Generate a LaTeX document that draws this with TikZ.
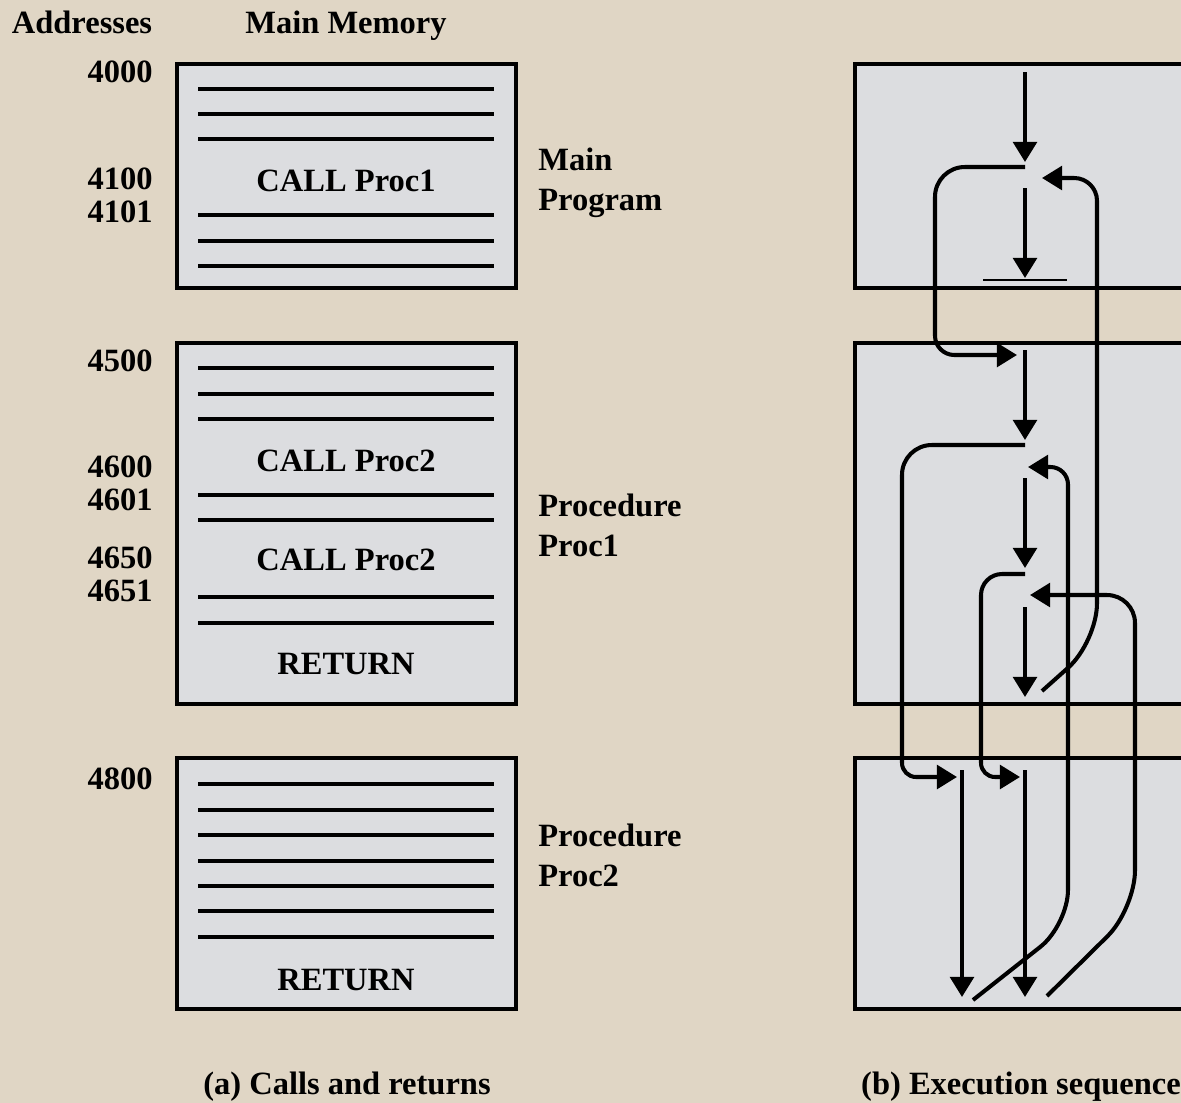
\documentclass[tikz,border=0pt]{standalone}
\usepackage{fontspec}
\setmainfont{Liberation Serif}
\usetikzlibrary{arrows.meta}
\definecolor{paper}{RGB}{224,214,197}
\definecolor{memgray}{RGB}{220,221,224}

\begin{document}
\begin{tikzpicture}[x=0.02cm,y=-0.02cm,>={Triangle[width=13.5pt,length=11.5pt]},
  every node/.style={font=\fontsize{18.5}{21}\selectfont\bfseries,inner sep=0pt},
  addr/.style={anchor=base east},
  side/.style={anchor=base west},
  instr/.style={anchor=base},
  membox/.style={draw,fill=memgray,line width=2.3pt},
  instrline/.style={line width=1.8pt},
  flow/.style={line width=2.3pt}]
  % page and background
  \useasboundingbox (0,0) rectangle (1181,1103);
  \clip (0,0) rectangle (1181,1103);
  \fill[paper] (0,0) rectangle (1181,1103);
  % headings
  \node (hdraddr) [anchor=base] at (82,33) {Addresses};
  \node (hdrmem) [anchor=base] at (346,33) {Main Memory};
  % (a) memory boxes
  \draw[membox] (177,64) rectangle (516,288);
  \draw[membox] (177,343) rectangle (516,704);
  \draw[membox] (177,758) rectangle (516,1009);
  \foreach \y in {89,114,139,215,241,266,368,394,419,495,520,597,623,
    784,810,835,861,886,911,937}
    \draw[instrline] (198,\y) -- (494,\y);
  \node (call1) [instr] at (346,191) {CALL Proc1};
  \node (call2a) [instr] at (346,471) {CALL Proc2};
  \node (call2b) [instr] at (346,570) {CALL Proc2};
  \node (ret1) [instr] at (346,674) {RETURN};
  \node (ret2) [instr] at (346,990) {RETURN};
  % addresses
  \node (a4000) [addr] at (153,82) {4000};
  \node (a4100) [addr] at (153,189) {4100};
  \node (a4101) [addr] at (153,222) {4101};
  \node (a4500) [addr] at (153,371) {4500};
  \node (a4600) [addr] at (153,477) {4600};
  \node (a4601) [addr] at (153,510) {4601};
  \node (a4650) [addr] at (153,568) {4650};
  \node (a4651) [addr] at (153,601) {4651};
  \node (a4800) [addr] at (153,789) {4800};
  % side labels
  \node (mainlbl) [side] at (538,170) {Main};
  \node (proglbl) [side] at (538,210) {Program};
  \node (p1lbl) [side] at (538,516) {Procedure};
  \node (p1name) [side] at (538,556) {Proc1};
  \node (p2lbl) [side] at (538,846) {Procedure};
  \node (p2name) [side] at (538,886) {Proc2};
  % (b) execution sequence
  \draw[membox] (855,64) rectangle (1200,288);
  \draw[membox] (855,343) rectangle (1200,704);
  \draw[membox] (855,758) rectangle (1200,1009);
  % main program
  \draw[flow,->] (1025,72) -- (1025,162);
  \draw[flow,->] (1025,188) -- (1025,278);
  \draw[line width=1.2pt] (983,280) -- (1067,280);
  \draw[flow,->] (1025,167) [rounded corners=17pt] -- (935,167)
    [rounded corners=11pt] -- (935,355) -- (1017,355);
  \draw[flow,->] (1042,691) [rounded corners=22pt] -- (1097,642)
    [rounded corners=13pt] -- (1097,178) -- (1042,178);
  % procedure Proc1
  \draw[flow,->] (1025,350) -- (1025,440);
  \draw[flow,->] (1025,445) [rounded corners=17pt] -- (902,445)
    [rounded corners=8pt] -- (902,777) -- (957,777);
  \draw[flow,->] (1025,478) -- (1025,568);
  \draw[flow,->] (1025,574) [rounded corners=12pt] -- (981,574)
    [rounded corners=8pt] -- (981,777) -- (1020,777);
  \draw[flow,->] (1025,607) -- (1025,697);
  \draw[flow,->] (973,1000) [rounded corners=20pt] -- (1068,925)
    [rounded corners=10pt] -- (1068,467) -- (1028,467);
  \draw[flow,->] (1047,996) [rounded corners=22pt] -- (1135,909)
    [rounded corners=16pt] -- (1135,595) -- (1030,595);
  % procedure Proc2
  \draw[flow,->] (962,770) -- (962,997);
  \draw[flow,->] (1025,770) -- (1025,997);
  % captions
  \node (capa) [anchor=base] at (347,1094) {(a) Calls and returns};
  \node (capb) [anchor=base] at (1021,1094) {(b) Execution sequence};
\end{tikzpicture}
\end{document}
